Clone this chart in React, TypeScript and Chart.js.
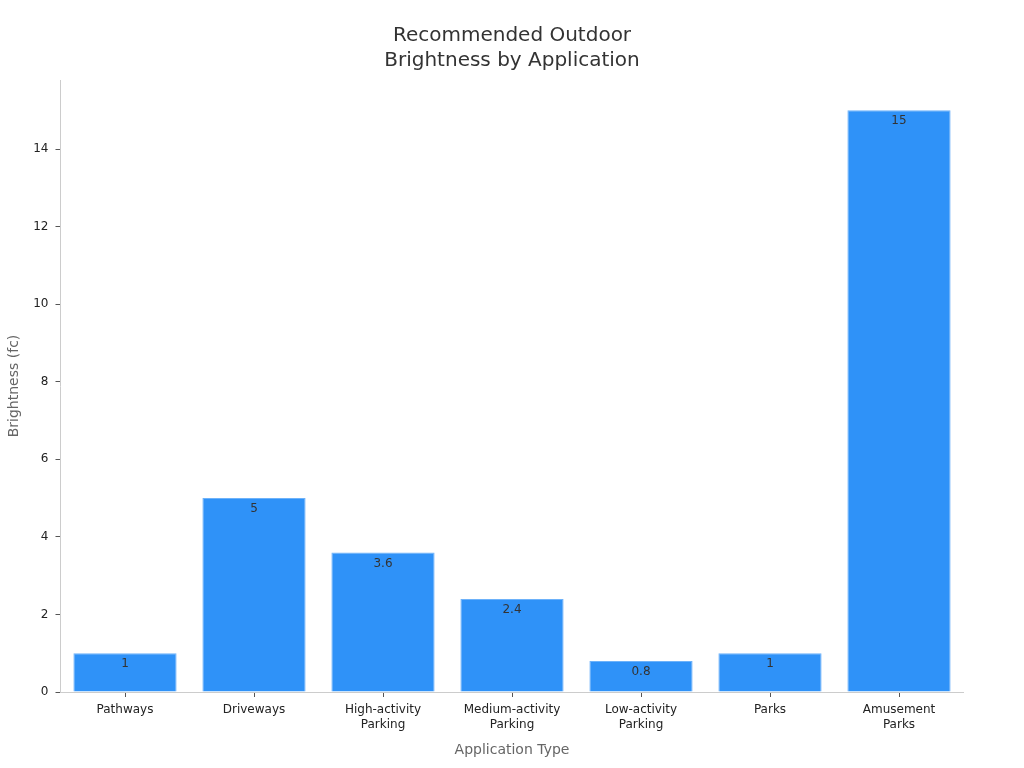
import React, { useRef, useEffect } from "react";
import { Chart, registerables, Plugin } from "chart.js";

Chart.register(...registerables);

const categories: string[][] = [
  ["Pathways"],
  ["Driveways"],
  ["High-activity", "Parking"],
  ["Medium-activity", "Parking"],
  ["Low-activity", "Parking"],
  ["Parks"],
  ["Amusement", "Parks"],
];
const brightness = [1, 5, 3.6, 2.4, 0.8, 1, 15];
const yTicks = [0, 2, 4, 6, 8, 10, 12, 14];

const FONT = "'DejaVu Sans', sans-serif";

// draws the value just inside the top of each bar
const valueLabels: Plugin<"bar"> = {
  id: "valueLabels",
  afterDatasetsDraw(chart) {
    const ctx = chart.ctx;
    const meta = chart.getDatasetMeta(0);
    ctx.save();
    ctx.font = `12px ${FONT}`;
    ctx.fillStyle = "#333333";
    ctx.textAlign = "center";
    ctx.textBaseline = "middle";
    meta.data.forEach((bar, i) => {
      const { x, y } = bar.getProps(["x", "y"], true) as { x: number; y: number };
      ctx.fillText(String(brightness[i]), x, y + 11);
    });
    ctx.restore();
  },
};

const App: React.FC = () => {
  const canvasRef = useRef<HTMLCanvasElement | null>(null);
  const chartRef = useRef<Chart | null>(null);

  useEffect(() => {
    if (!canvasRef.current) return;
    if (chartRef.current) chartRef.current.destroy();

    chartRef.current = new Chart(canvasRef.current, {
      type: "bar",
      data: {
        labels: categories,
        datasets: [
          {
            label: "Brightness",
            data: brightness,
            backgroundColor: "#2f92f8",
            borderColor: "#6db2fa",
            borderWidth: 1,
            barPercentage: 0.8,
            categoryPercentage: 1.0,
          },
        ],
      },
      options: {
        animation: false,
        responsive: true,
        maintainAspectRatio: false,
        layout: { padding: { top: 10, left: 4, right: 4, bottom: 5 } },
        plugins: {
          legend: { display: false },
          tooltip: { enabled: false },
          title: {
            display: true,
            text: ["Recommended Outdoor", "Brightness by Application"],
            color: "#333333",
            font: { family: FONT, size: 20, weight: "normal", lineHeight: 1.25 },
            padding: { top: 13, bottom: 7 },
          },
        },
        scales: {
          x: {
            grid: {
              display: true,
              drawOnChartArea: false,
              drawTicks: true,
              tickLength: 5,
              color: "#555555",
              offset: false,
            },
            border: { display: true, color: "#cccccc" },
            ticks: {
              color: "#222222",
              font: { family: FONT, size: 12 },
              maxRotation: 0,
              autoSkip: false,
              padding: 6,
            },
            title: {
              display: true,
              text: "Application Type",
              color: "#666666",
              font: { family: FONT, size: 14 },
              padding: { top: 8, bottom: 4 },
            },
            afterFit: (scale) => {
              scale.height = 71;
            },
          },
          y: {
            min: 0,
            max: 15.78,
            afterBuildTicks: (scale) => {
              scale.ticks = yTicks.map((v) => ({ value: v }));
            },
            grid: {
              display: true,
              drawOnChartArea: false,
              drawTicks: true,
              tickLength: 5,
              color: "#555555",
            },
            border: { display: true, color: "#cccccc" },
            ticks: {
              color: "#222222",
              font: { family: FONT, size: 12 },
              padding: 7,
            },
            title: {
              display: true,
              text: "Brightness (fc)",
              color: "#666666",
              font: { family: FONT, size: 14 },
              padding: { top: 2, bottom: 4 },
            },
            afterFit: (scale) => {
              scale.width = 56.5;
            },
          },
          // empty right-hand axis, only reserves space so the title centres on the page
          spacer: {
            type: "linear",
            position: "right",
            display: true,
            grid: { display: false },
            border: { display: false },
            ticks: { display: false },
            afterFit: (scale) => {
              scale.width = 56.5;
            },
          },
        },
      },
      plugins: [valueLabels],
    });

    return () => {
      if (chartRef.current) {
        chartRef.current.destroy();
        chartRef.current = null;
      }
    };
  }, []);

  return (
    <div style={{ position: "fixed", left: 0, top: 0, width: 1024, height: 768, background: "#ffffff" }}>
      <canvas ref={canvasRef}></canvas>
    </div>
  );
};

export default App;
